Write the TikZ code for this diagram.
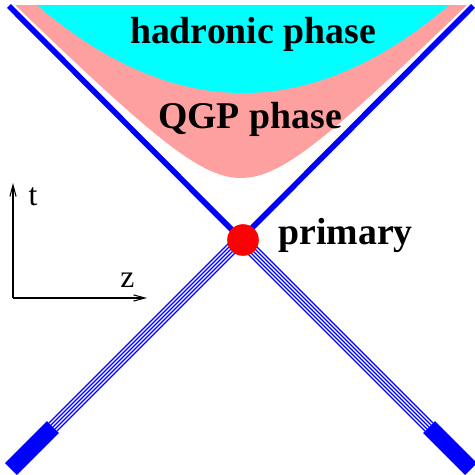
\documentclass[tikz,border=0pt]{standalone}
\usepackage{fontspec}
\setmainfont{Liberation Serif}
\usetikzlibrary{arrows.meta,positioning,calc}

\definecolor{hadcyan}{RGB}{0,255,255}
\definecolor{qgppink}{RGB}{255,160,160}

\begin{document}
\begin{tikzpicture}[x=0.02cm, y=-0.02cm, >={Straight Barb[length=6.5pt,width=3.5pt]}]
  \tikzset{cone/.style={blue, line width=3.2pt},
           strand/.style={blue, line width=0.65pt},
           beam/.style={blue, line width=9.5pt},
           axis/.style={->, line width=0.6pt},
           phase/.style={font=\fontsize{21.5}{24}\selectfont\bfseries, anchor=base},
           axislabel/.style={font=\fontsize{18}{20}\selectfont, anchor=base}}
  \useasboundingbox (0,0) rectangle (475,475);
  % phase regions
  \begin{scope}
    \clip (0,6) rectangle (475,475);
    \fill[qgppink] plot[domain=-2.4:2.4, samples=100] ({241+100*\x},{239-100*sqrt(0.3721+\x*\x)}) -- (481,-20) -- (1,-20) -- cycle;
    \fill[hadcyan] plot[domain=20:466, samples=100] (\x,{93-20.7*((\x-243)/100)*((\x-243)/100)}) -- cycle;
  \end{scope}
  \node[phase] (hadr) at (253,43.5) {hadronic phase};
  \node[phase] (qgp) at (250,129) {QGP phase};
  % light cone and beams
  \coordinate (vtxc) at (241,239);
  \coordinate (tl) at (9,6);
  \coordinate (tr) at (473,6);
  \coordinate (bl) at (11,469);
  \coordinate (blk) at (53,427);
  \coordinate (br) at (471,469);
  \coordinate (brk) at (429,427);
  \draw[cone] (tl) -- (vtxc);
  \draw[cone] (tr) -- (vtxc);
  \foreach \k in {-2,...,2} {
    \draw[strand] ($(blk)+(\k*2,\k*2)$) -- ($(vtxc)+(\k*2,\k*2)$);
    \draw[strand] ($(brk)+(\k*2,-\k*2)$) -- ($(vtxc)+(\k*2,-\k*2)$);
  }
  \draw[beam] (bl) -- (blk);
  \draw[beam] (br) -- (brk);
  \node[circle, fill=red, inner sep=0pt, minimum size=18pt] (vtx) at (243,240) {};
  \node[phase] (prim) at (345.5,245) {primary};
  % axes
  \coordinate (orig) at (13,298);
  \coordinate (tend) at (13,183);
  \coordinate (zend) at (147,298);
  \draw[axis] (orig) -- (tend);
  \draw[axis] (orig) -- (zend);
  \node[axislabel] (tlab) at (33,206) {t};
  \node[axislabel] (zlab) at (127.5,288) {z};
\end{tikzpicture}
\end{document}
